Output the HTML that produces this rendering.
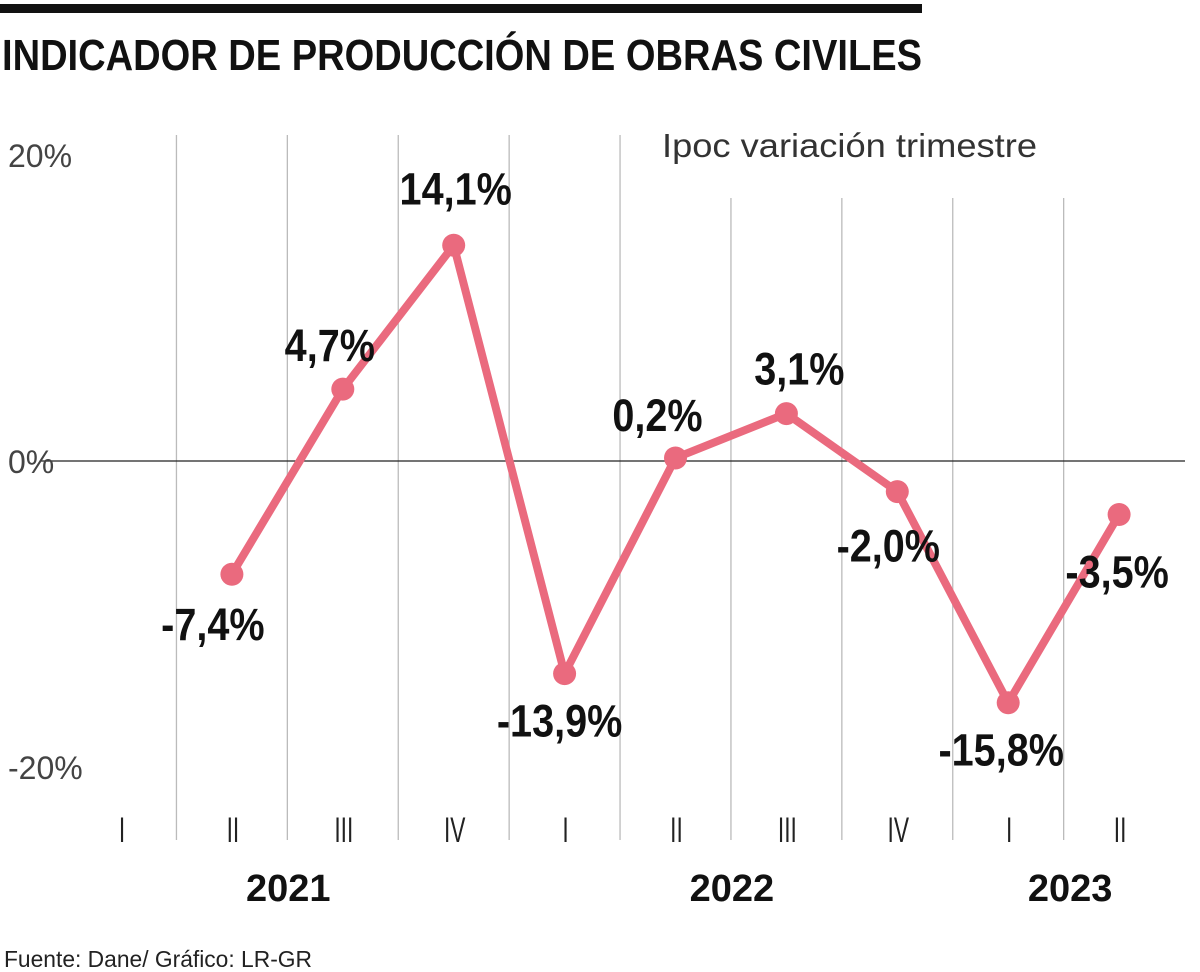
<!DOCTYPE html>
<html><head><meta charset="utf-8"><style>
html,body{margin:0;padding:0;background:#fff;}
svg{display:block;}
</style></head><body>
<svg id="chart" width="1200" height="972" xmlns="http://www.w3.org/2000/svg">
<rect x="0" y="4" width="922" height="9" fill="#111"/>
<text x="2" y="70" font-family="Liberation Sans, sans-serif" font-weight="bold" font-size="44" textLength="920" lengthAdjust="spacingAndGlyphs" fill="#111">INDICADOR DE PRODUCCIÓN DE OBRAS CIVILES</text>
<text x="662" y="157" font-family="Liberation Sans, sans-serif" font-size="33" textLength="375" lengthAdjust="spacingAndGlyphs" fill="#333">Ipoc variación trimestre</text>
<g id="grid"></g>
<g id="axes"></g>
<g id="series"></g>
<text x="4" y="967" font-family="Liberation Sans, sans-serif" font-size="23" textLength="308" lengthAdjust="spacingAndGlyphs" fill="#222">Fuente: Dane/ Gráfico: LR-GR</text>
</svg>
<script>
const quarters = ["I","II","III","IV","I","II","III","IV","I","II"];
const values = [null,-7.4,4.7,14.1,-13.9,0.2,3.1,-2.0,-15.8,-3.5];
const valueLabels = [null,"-7,4%","4,7%","14,1%","-13,9%","0,2%","3,1%","-2,0%","-15,8%","-3,5%"];
const years = ["2021","2022","2023"];
const yearCenters = [2.4, 6.4, 9.45];
const yTicks = [20,0,-20];
const yTickLabels = ["20%","0%","-20%"];
const labelDx = [0,-19,-13,2,-5,-18,13,-9,-7,-2];
const labelDy = [0,66,-28,-41,63,-27,-29,70,63,73];

const NS="http://www.w3.org/2000/svg";
const x = i => 121 + i*110.9;
const y = v => 461 - v*15.3;
function el(tag, attrs, parent, text){
  const e=document.createElementNS(NS,tag);
  for(const k in attrs) e.setAttribute(k,attrs[k]);
  if(text!==undefined) e.textContent=text;
  parent.appendChild(e); return e;
}
const grid=document.getElementById('grid'), axes=document.getElementById('axes'), series=document.getElementById('series');
for(let i=0;i<quarters.length-1;i++){
  const gx=(x(i)+x(i+1))/2;
  const g=el('line',{x1:gx,x2:gx,y1:i>=5?198:135,y2:840,stroke:'#bbb','stroke-width':1.3},grid);
  
  
}
const zl=el('line',{x1:40,x2:1185,y1:y(0),y2:y(0),stroke:'#222','stroke-width':1.3},grid);


yTicks.forEach((t,i)=>{
  const e=el('text',{x:8,y:y(t)+12,'font-family':'Liberation Sans, sans-serif','font-size':32,fill:'#444'},axes,yTickLabels[i]);
  
  
});
quarters.forEach((q,i)=>{
  const e=el('text',{x:x(i)+1,y:842,'text-anchor':'middle','font-family':'Liberation Sans, sans-serif','font-size':35,fill:'#222',transform:`translate(${x(i)+1},0) scale(0.65,1) translate(${-(x(i)+1)},0)`},axes,q);
  
  
});
years.forEach((yr,i)=>{
  const cx=x(yearCenters[i]-1)+12;
  const e=el('text',{x:cx,y:901,'text-anchor':'middle','font-family':'Liberation Sans, sans-serif','font-weight':'bold','font-size':38,fill:'#111'},axes,yr);
  
  
});
let d='';
values.forEach((v,i)=>{ if(v===null) return; d+=(d?'L':'M')+x(i)+' '+y(v)+' '; });
const line=el('path',{d:d,fill:'none',stroke:'#ea6a7e','stroke-width':8,'stroke-linejoin':'round'},series);


values.forEach((v,i)=>{
  if(v===null) return;
  const c=el('circle',{cx:x(i),cy:y(v),r:11.5,fill:'#ea6a7e'},series);
  
  
  const lx=x(i)+labelDx[i], ly=y(v)+labelDy[i];
  const t=el('text',{x:lx,y:ly,'text-anchor':'middle','font-family':'Liberation Sans, sans-serif','font-weight':'bold','font-size':45,fill:'#111',transform:`translate(${lx},0) scale(0.88,1) translate(${-lx},0)`},series,valueLabels[i]);
  
  
});
</script>
</body></html>
